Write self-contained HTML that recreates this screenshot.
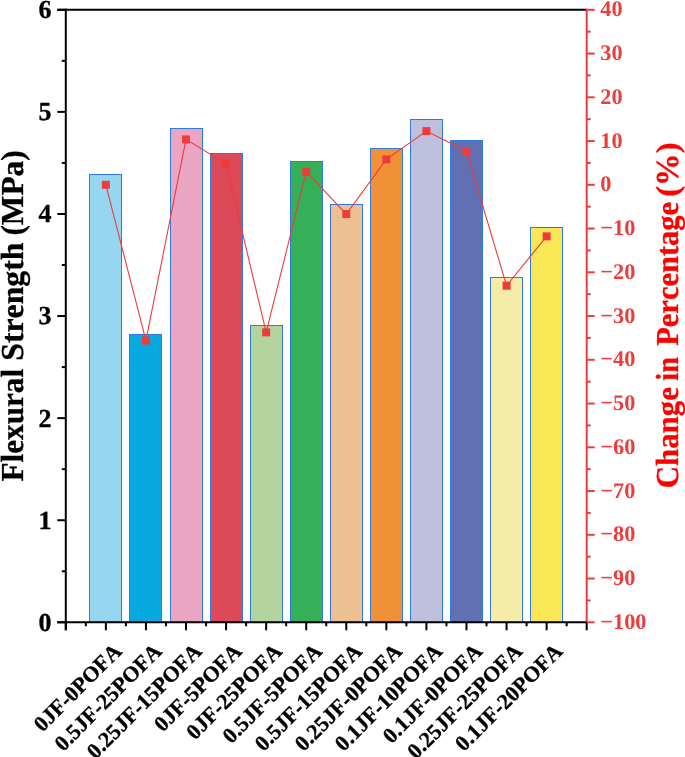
<!DOCTYPE html>
<html><head><meta charset="utf-8"><title>Flexural Strength</title>
<style>html,body{margin:0;padding:0;background:#fff}svg{display:block}</style></head>
<body>
<svg width="685" height="757" viewBox="0 0 685 757" font-family="'Liberation Serif', 'Times New Roman', serif" font-weight="bold" style="font-kerning:none" text-rendering="geometricPrecision">
<rect width="685" height="757" fill="#fff"/>
<rect x="89.5" y="174.5" width="32" height="447.80" fill="#97D6F1" stroke="#2F7BE0" stroke-width="1"/>
<rect x="129.5" y="334.5" width="32" height="287.80" fill="#08A9E0" stroke="#2F7BE0" stroke-width="1"/>
<rect x="170.5" y="128.5" width="32" height="493.80" fill="#EAA5C3" stroke="#2F7BE0" stroke-width="1"/>
<rect x="210.5" y="153.5" width="32" height="468.80" fill="#DC4959" stroke="#2F7BE0" stroke-width="1"/>
<rect x="250.5" y="325.5" width="32" height="296.80" fill="#B3D59D" stroke="#2F7BE0" stroke-width="1"/>
<rect x="290.5" y="161.5" width="32" height="460.80" fill="#35B058" stroke="#2F7BE0" stroke-width="1"/>
<rect x="330.5" y="204.5" width="32" height="417.80" fill="#EDC093" stroke="#2F7BE0" stroke-width="1"/>
<rect x="370.5" y="148.5" width="32" height="473.80" fill="#F09138" stroke="#2F7BE0" stroke-width="1"/>
<rect x="410.5" y="119.5" width="32" height="502.80" fill="#BEBEDD" stroke="#2F7BE0" stroke-width="1"/>
<rect x="450.5" y="140.5" width="32" height="481.80" fill="#616FB3" stroke="#2F7BE0" stroke-width="1"/>
<rect x="490.5" y="277.5" width="32" height="344.80" fill="#F5ECA7" stroke="#2F7BE0" stroke-width="1"/>
<rect x="530.5" y="227.5" width="32" height="394.80" fill="#F9E755" stroke="#2F7BE0" stroke-width="1"/>
<polyline fill="none" stroke="#EE3B3B" stroke-width="1.1" points="105.87,184.80 145.94,340.64 186.01,139.40 226.08,163.75 266.15,332.36 306.22,171.73 346.28,214.03 386.35,159.36 426.42,131.12 466.49,151.18 506.56,285.67 546.63,236.38"/>
<rect x="101.87" y="180.80" width="8" height="8" fill="#EE3B3B"/>
<rect x="141.94" y="336.64" width="8" height="8" fill="#EE3B3B"/>
<rect x="182.01" y="135.40" width="8" height="8" fill="#EE3B3B"/>
<rect x="222.08" y="159.75" width="8" height="8" fill="#EE3B3B"/>
<rect x="262.15" y="328.36" width="8" height="8" fill="#EE3B3B"/>
<rect x="302.22" y="167.73" width="8" height="8" fill="#EE3B3B"/>
<rect x="342.28" y="210.03" width="8" height="8" fill="#EE3B3B"/>
<rect x="382.35" y="155.36" width="8" height="8" fill="#EE3B3B"/>
<rect x="422.42" y="127.12" width="8" height="8" fill="#EE3B3B"/>
<rect x="462.49" y="147.18" width="8" height="8" fill="#EE3B3B"/>
<rect x="502.56" y="281.67" width="8" height="8" fill="#EE3B3B"/>
<rect x="542.63" y="232.38" width="8" height="8" fill="#EE3B3B"/>
<g stroke="#000" stroke-width="2" fill="none">
<path d="M57.3 9.8H586.7"/>
<path d="M65.8 8.8V630.3"/>
<path d="M57.3 622.3H587.7"/>
<path d="M57.3 622.30H65.8"/>
<path d="M61.8 571.26H65.8"/>
<path d="M57.3 520.22H65.8"/>
<path d="M61.8 469.17H65.8"/>
<path d="M57.3 418.13H65.8"/>
<path d="M61.8 367.09H65.8"/>
<path d="M57.3 316.05H65.8"/>
<path d="M61.8 265.01H65.8"/>
<path d="M57.3 213.97H65.8"/>
<path d="M61.8 162.92H65.8"/>
<path d="M57.3 111.88H65.8"/>
<path d="M61.8 60.84H65.8"/>
<path d="M57.3 9.80H65.8"/>
<path d="M65.80 622.3V630.3"/>
<path d="M85.83 622.3V626.3"/>
<path d="M105.87 622.3V630.3"/>
<path d="M125.90 622.3V626.3"/>
<path d="M145.94 622.3V630.3"/>
<path d="M165.97 622.3V626.3"/>
<path d="M186.01 622.3V630.3"/>
<path d="M206.04 622.3V626.3"/>
<path d="M226.08 622.3V630.3"/>
<path d="M246.11 622.3V626.3"/>
<path d="M266.15 622.3V630.3"/>
<path d="M286.18 622.3V626.3"/>
<path d="M306.22 622.3V630.3"/>
<path d="M326.25 622.3V626.3"/>
<path d="M346.28 622.3V630.3"/>
<path d="M366.32 622.3V626.3"/>
<path d="M386.35 622.3V630.3"/>
<path d="M406.39 622.3V626.3"/>
<path d="M426.42 622.3V630.3"/>
<path d="M446.46 622.3V626.3"/>
<path d="M466.49 622.3V630.3"/>
<path d="M486.53 622.3V626.3"/>
<path d="M506.56 622.3V630.3"/>
<path d="M526.60 622.3V626.3"/>
<path d="M546.63 622.3V630.3"/>
<path d="M566.67 622.3V626.3"/>
<path d="M586.70 622.3V630.3"/>
</g>
<g stroke="#EE3B3B" stroke-width="2" fill="none">
<path d="M586.7 8.8V621.3"/>
<path d="M586.7 9.80H594.7"/>
<path d="M586.7 31.68H590.7"/>
<path d="M586.7 53.55H594.7"/>
<path d="M586.7 75.42H590.7"/>
<path d="M586.7 97.30H594.7"/>
<path d="M586.7 119.17H590.7"/>
<path d="M586.7 141.05H594.7"/>
<path d="M586.7 162.93H590.7"/>
<path d="M586.7 184.80H594.7"/>
<path d="M586.7 206.68H590.7"/>
<path d="M586.7 228.55H594.7"/>
<path d="M586.7 250.43H590.7"/>
<path d="M586.7 272.30H594.7"/>
<path d="M586.7 294.18H590.7"/>
<path d="M586.7 316.05H594.7"/>
<path d="M586.7 337.93H590.7"/>
<path d="M586.7 359.80H594.7"/>
<path d="M586.7 381.68H590.7"/>
<path d="M586.7 403.55H594.7"/>
<path d="M586.7 425.43H590.7"/>
<path d="M586.7 447.30H594.7"/>
<path d="M586.7 469.18H590.7"/>
<path d="M586.7 491.05H594.7"/>
<path d="M586.7 512.92H590.7"/>
<path d="M586.7 534.80H594.7"/>
<path d="M586.7 556.67H590.7"/>
<path d="M586.7 578.55H594.7"/>
<path d="M586.7 600.42H590.7"/>
<path d="M586.7 622.30H594.7"/>
</g>
<text x="51.5" y="630.70" font-size="26" text-anchor="end" fill="#000" stroke="#000" stroke-width="0.3">0</text>
<text x="51.5" y="528.62" font-size="26" text-anchor="end" fill="#000" stroke="#000" stroke-width="0.3">1</text>
<text x="51.5" y="426.53" font-size="26" text-anchor="end" fill="#000" stroke="#000" stroke-width="0.3">2</text>
<text x="51.5" y="324.45" font-size="26" text-anchor="end" fill="#000" stroke="#000" stroke-width="0.3">3</text>
<text x="51.5" y="222.37" font-size="26" text-anchor="end" fill="#000" stroke="#000" stroke-width="0.3">4</text>
<text x="51.5" y="120.28" font-size="26" text-anchor="end" fill="#000" stroke="#000" stroke-width="0.3">5</text>
<text x="51.5" y="18.20" font-size="26" text-anchor="end" fill="#000" stroke="#000" stroke-width="0.3">6</text>
<text x="600.3" y="16.30" font-size="22.3" fill="#EE3B3B">40</text>
<text x="600.3" y="60.05" font-size="22.3" fill="#EE3B3B">30</text>
<text x="600.3" y="103.80" font-size="22.3" fill="#EE3B3B">20</text>
<text x="600.3" y="147.55" font-size="22.3" fill="#EE3B3B">10</text>
<text x="600.3" y="191.30" font-size="22.3" fill="#EE3B3B">0</text>
<text x="600.3" y="235.05" font-size="22.3" fill="#EE3B3B">−10</text>
<text x="600.3" y="278.80" font-size="22.3" fill="#EE3B3B">−20</text>
<text x="600.3" y="322.55" font-size="22.3" fill="#EE3B3B">−30</text>
<text x="600.3" y="366.30" font-size="22.3" fill="#EE3B3B">−40</text>
<text x="600.3" y="410.05" font-size="22.3" fill="#EE3B3B">−50</text>
<text x="600.3" y="453.80" font-size="22.3" fill="#EE3B3B">−60</text>
<text x="600.3" y="497.55" font-size="22.3" fill="#EE3B3B">−70</text>
<text x="600.3" y="541.30" font-size="22.3" fill="#EE3B3B">−80</text>
<text x="600.3" y="585.05" font-size="22.3" fill="#EE3B3B">−90</text>
<text x="600.3" y="628.80" font-size="22.3" fill="#EE3B3B">−100</text>
<text transform="translate(122.87 652.50) rotate(-45)" font-size="22" text-anchor="end" fill="#000" stroke="#000" stroke-width="0.3">0JF-0POFA</text>
<text transform="translate(162.94 652.50) rotate(-45)" font-size="22" text-anchor="end" fill="#000" stroke="#000" stroke-width="0.3">0.5JF-25POFA</text>
<text transform="translate(203.01 652.50) rotate(-45)" font-size="22" text-anchor="end" fill="#000" stroke="#000" stroke-width="0.3">0.25JF-15POFA</text>
<text transform="translate(243.08 652.50) rotate(-45)" font-size="22" text-anchor="end" fill="#000" stroke="#000" stroke-width="0.3">0JF-5POFA</text>
<text transform="translate(283.15 652.50) rotate(-45)" font-size="22" text-anchor="end" fill="#000" stroke="#000" stroke-width="0.3">0JF-25POFA</text>
<text transform="translate(323.22 652.50) rotate(-45)" font-size="22" text-anchor="end" fill="#000" stroke="#000" stroke-width="0.3">0.5JF-5POFA</text>
<text transform="translate(363.28 652.50) rotate(-45)" font-size="22" text-anchor="end" fill="#000" stroke="#000" stroke-width="0.3">0.5JF-15POFA</text>
<text transform="translate(403.35 652.50) rotate(-45)" font-size="22" text-anchor="end" fill="#000" stroke="#000" stroke-width="0.3">0.25JF-0POFA</text>
<text transform="translate(443.42 652.50) rotate(-45)" font-size="22" text-anchor="end" fill="#000" stroke="#000" stroke-width="0.3">0.1JF-10POFA</text>
<text transform="translate(483.49 652.50) rotate(-45)" font-size="22" text-anchor="end" fill="#000" stroke="#000" stroke-width="0.3">0.1JF-0POFA</text>
<text transform="translate(523.56 652.50) rotate(-45)" font-size="22" text-anchor="end" fill="#000" stroke="#000" stroke-width="0.3">0.25JF-25POFA</text>
<text transform="translate(563.63 652.50) rotate(-45)" font-size="22" text-anchor="end" fill="#000" stroke="#000" stroke-width="0.3">0.1JF-20POFA</text>
<text transform="translate(22.6 480.50) rotate(-90) scale(0.9746 1)" x="-1" y="0" font-size="32" fill="#000" stroke="#000" stroke-width="0.3">Flexural</text>
<text transform="translate(22.6 358.70) rotate(-90) scale(0.9915 1)" x="-2" y="0" font-size="32" fill="#000" stroke="#000" stroke-width="0.3">Strength</text>
<text transform="translate(22.6 234.60) rotate(-90) scale(0.9788 1)" x="-1" y="0" font-size="32" fill="#000" stroke="#000" stroke-width="0.3">(MPa)</text>
<text transform="translate(677.5 486.30) rotate(-90) scale(0.9637 1)" x="-2" y="0" font-size="32" fill="#FF0000" stroke="#FF0000" stroke-width="0.3">Change</text>
<text transform="translate(677.5 379.80) rotate(-90) scale(0.8880 1)" x="-1" y="0" font-size="32" fill="#FF0000" stroke="#FF0000" stroke-width="0.3">in</text>
<text transform="translate(677.5 344.90) rotate(-90) scale(0.9537 1)" x="-1" y="0" font-size="32" fill="#FF0000" stroke="#FF0000" stroke-width="0.3">Percentage</text>
<text transform="translate(677.5 195.80) rotate(-90) scale(1.0196 1)" x="-1" y="0" font-size="32" fill="#FF0000" stroke="#FF0000" stroke-width="0.3">(%)</text>
</svg>
</body></html>
